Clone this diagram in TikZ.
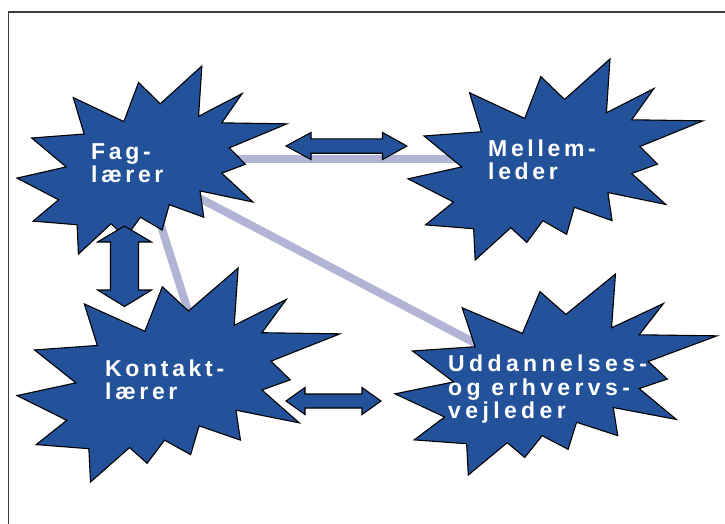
\documentclass[tikz,border=0pt]{standalone}
\usepackage{fontspec}
\newfontfamily\lblfont[LetterSpace=16]{Liberation Sans Bold}
\newfontfamily\lblwidefont[LetterSpace=19]{Liberation Sans Bold}

\definecolor{burstblue}{RGB}{36,82,154}
\definecolor{linklav}{RGB}{178,180,214}
\definecolor{framegray}{RGB}{60,60,60}

% Explosion outline in a unit box (0..1 wide, 0..1 high, y downwards)
\newcommand\burstpath{(0.5306,0.2010) -- (0.6847,0) -- (0.6725,0.2675) -- (0.8337,0.1469)
  -- (0.7583,0.3024) -- (1,0.3076) -- (0.7863,0.4353) -- (0.8458,0.5227)
  -- (0.7583,0.5699) -- (0.8739,0.7237) -- (0.6778,0.6644) -- (0.6918,0.8042)
  -- (0.5639,0.7377) -- (0.5376,0.8723) -- (0.4570,0.8042) -- (0.4028,0.9126)
  -- (0.3485,0.8391) -- (0.2276,1) -- (0.2225,0.8444) -- (0.0595,0.8252)
  -- (0.1542,0.7116) -- (0,0.5962) -- (0.1822,0.5367) -- (0.0543,0.3829)
  -- (0.2487,0.3619) -- (0.2084,0.1678) -- (0.3958,0.2955) -- (0.4501,0.0874) -- cycle}

\tikzset{
  burst/.style={fill=burstblue, draw=black, line width=1.1pt, line join=miter},
  link/.style={draw=linklav, line width=8pt},
  blockarrow/.style={fill=burstblue, draw=black, line width=1.1pt, line join=miter},
  % anchored at the baseline of the last line
  lbl/.style={text=white, font=\lblfont\fontsize{23}{23.5}\selectfont,
    align=left, inner sep=0pt, anchor=base west},
  lblwide/.style={lbl, font=\lblwidefont\fontsize{23}{23.5}\selectfont},
}

\begin{document}
\begin{tikzpicture}[x=1pt,y=-1pt]
\useasboundingbox (0,0) rectangle (725,523);
\fill[white] (0,0) rectangle (725,523);

% frame (only its top and left sides fall inside the page)
\draw[framegray, line width=1.5pt] (8.5,540) -- (8.5,12) -- (740,12);

% end points of the light links, hidden under the bursts
\coordinate (fagE)  at (225,158.7);
\coordinate (melW)  at (480,158.7);
\coordinate (fagSE) at (175,185.3);
\coordinate (uddNW) at (490,350.9);
\coordinate (fagS)  at (154.4,205);
\coordinate (konN)  at (192.5,325);

\draw[link] (fagE) -- (melW);
\draw[link] (fagSE) -- (uddNW);
\draw[link] (fagS) -- (konN);

% bursts
\begin{scope}[shift={(17,66)}, xscale=270, yscale=188]
  \draw[burst] \burstpath;
\end{scope}
\begin{scope}[shift={(408,59)}, xscale=295, yscale=201]
  \draw[burst] \burstpath;
\end{scope}
\begin{scope}[shift={(17,268)}, xscale=323, yscale=214]
  \draw[burst] \burstpath;
\end{scope}
\begin{scope}[shift={(395,274)}, xscale=322, yscale=201]
  \draw[burst] \burstpath;
\end{scope}

% labels
\node[lbl] (fag) at (91,182.5) {Fag-\\lærer};
\node[lbl] (mel) at (488,179.5) {Mellem-\\leder};
\node[lbl] (kon) at (105,399.5) {Kontakt-\\lærer};
\node[lblwide] (udd) at (448,418.5) {Uddannelses-\\og erhvervs-\\vejleder};

% two-headed block arrows
\draw[blockarrow] (286,146) -- (311,132.5) -- (311,138.8) -- (382.5,138.8) -- (382.5,132.5)
  -- (407,146) -- (382.5,159.5) -- (382.5,153.2) -- (311,153.2) -- (311,159.5) -- cycle;
\draw[blockarrow] (124.5,226) -- (151.5,242) -- (138.5,242) -- (138.5,290) -- (151.5,290)
  -- (124.5,306.5) -- (97.5,290) -- (110.5,290) -- (110.5,242) -- (97.5,242) -- cycle;
\draw[blockarrow] (286,401) -- (305,387.5) -- (305,394) -- (362,394) -- (362,387.5)
  -- (381,401) -- (362,414.5) -- (362,408) -- (305,408) -- (305,414.5) -- cycle;
\end{tikzpicture}
\end{document}
